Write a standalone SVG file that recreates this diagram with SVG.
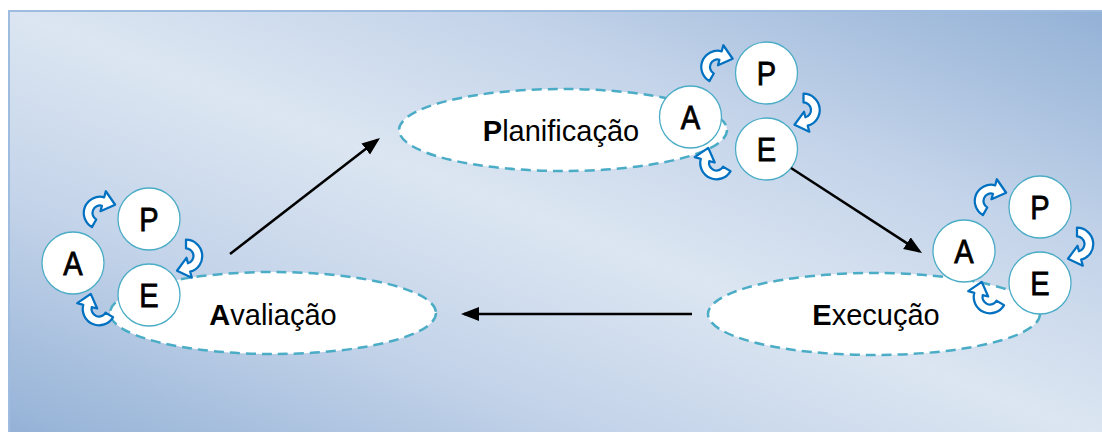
<svg xmlns="http://www.w3.org/2000/svg" width="1102" height="432" viewBox="0 0 1102 432">
  <defs>
    <linearGradient id="bg" x1="0" y1="1" x2="1" y2="0">
      <stop offset="0" stop-color="#93b1d6"/>
      <stop offset="0.28" stop-color="#c3d3e9"/>
      <stop offset="0.5" stop-color="#dce6f2"/>
      <stop offset="0.72" stop-color="#c3d3e9"/>
      <stop offset="1" stop-color="#93b1d6"/>
    </linearGradient>
    <marker id="head" markerUnits="userSpaceOnUse" markerWidth="20" markerHeight="16" refX="15" refY="7" orient="auto">
      <path d="M0,0 L18,7 L0,14 Z" fill="#000"/>
    </marker>
    <!-- curved cycle arrow, centred on its arc -->
    <path id="curl" d="M -11.26 6.5 A 13 13 0 0 1 9.19 -9.19 L 12.73 -12.73 L 13.79 0.35 L 1.06 -1.06 L 4.24 -4.24 A 6 6 0 0 0 -5.20 3.0 Z"/>
    <!-- one A / P / E cycle, drawn at the position used beside "Avaliação" -->
    <g id="cycle">
      <use href="#curl" class="curl" transform="translate(100 213) rotate(-30) scale(1.25)"/>
      <use href="#curl" class="curl" transform="translate(186 256) rotate(120) scale(1.25)"/>
      <use href="#curl" class="curl" transform="translate(99 309) rotate(-120) scale(1.25)"/>
      <g class="node" id="cycle-p">
        <circle cx="149" cy="219" r="31"/>
        <text transform="translate(149 231) scale(0.88 1)">P</text>
      </g>
      <g class="node" id="cycle-a">
        <circle cx="73" cy="263" r="31"/>
        <text transform="translate(73 275) scale(0.88 1)">A</text>
      </g>
      <g class="node" id="cycle-e">
        <circle cx="149" cy="295" r="31"/>
        <text transform="translate(149 307) scale(0.88 1)">E</text>
      </g>
    </g>
  </defs>
  <style>
    .phase ellipse { fill: #ffffff; stroke: #4bacc6; stroke-width: 2.5; stroke-dasharray: 10 6; }
    .phase text { font-family: "Liberation Sans", Arial, sans-serif; font-size: 29px; fill: #000; text-anchor: middle; }
    .phase text tspan { font-weight: bold; }
    .node circle { fill: #ffffff; stroke: #4bacc6; stroke-width: 1.3; }
    .node text { font-family: "Liberation Sans", Arial, sans-serif; font-size: 33px; fill: #000; stroke: #000; stroke-width: 0.8; text-anchor: middle; }
    .curl { fill: #ffffff; stroke: #0070c0; stroke-width: 1.8; stroke-linejoin: round; }
    #connectors line { stroke: #000; stroke-width: 2.5; marker-end: url(#head); }
  </style>

  <!-- backdrop panel -->
  <rect x="9" y="11" width="1100" height="430" fill="url(#bg)" stroke="#9ebbe0" stroke-width="2"/>

  <!-- phases -->
  <g id="planificacao" class="phase">
    <ellipse cx="563" cy="130" rx="164" ry="41"/>
    <text x="561" y="141"><tspan>P</tspan>lanificação</text>
  </g>
  <g id="avaliacao" class="phase">
    <ellipse cx="273" cy="313" rx="163" ry="41"/>
    <text x="273" y="325"><tspan>A</tspan>valiação</text>
  </g>
  <g id="execucao" class="phase">
    <ellipse cx="874" cy="314" rx="166" ry="41"/>
    <text x="876" y="325"><tspan>E</tspan>xecução</text>
  </g>

  <!-- A/P/E cycles attached to each phase -->
  <g id="cycle-avaliacao"><use href="#cycle"/></g>
  <g id="cycle-planificacao" transform="translate(617.5 -146)"><use href="#cycle"/></g>
  <g id="cycle-execucao" transform="translate(891 -12)"><use href="#cycle"/></g>

  <!-- transitions between phases -->
  <g id="connectors">
    <line x1="230" y1="254" x2="377.6" y2="139.8"/>
    <line x1="791" y1="168" x2="919.5" y2="251.4"/>
    <line x1="692" y1="314" x2="464" y2="314"/>
  </g>
</svg>
